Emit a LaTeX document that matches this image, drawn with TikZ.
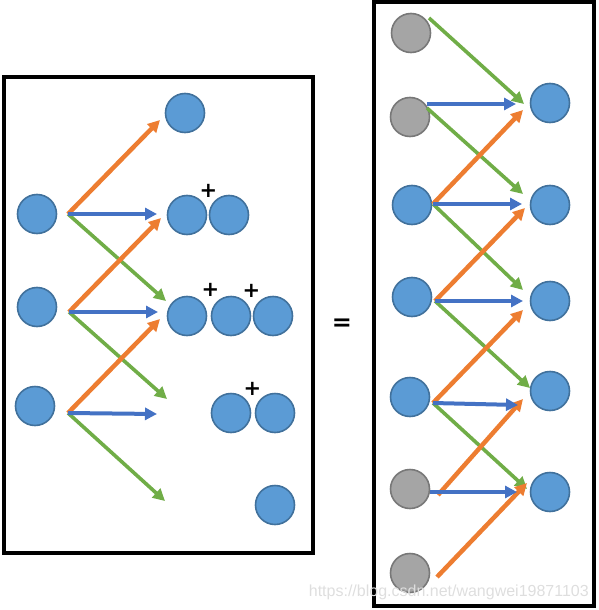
\documentclass[tikz,border=0pt]{standalone}
\usepackage{fontspec}
\setmainfont{Liberation Sans}
\newfontfamily\heavyfont{DejaVu Sans}
\usetikzlibrary{arrows.meta}
\definecolor{cfill}{HTML}{5B9BD5}
\definecolor{cedge}{HTML}{41719C}
\definecolor{gfill}{HTML}{A5A5A5}
\definecolor{gedge}{HTML}{787878}
\definecolor{aor}{HTML}{ED7D31}
\definecolor{abl}{HTML}{4472C4}
\definecolor{agr}{HTML}{70AD47}
\tikzset{
  bc/.style={circle,fill=cfill,draw=cedge,line width=1.6pt,minimum size=39pt,inner sep=0pt},
  gc/.style={circle,fill=gfill,draw=gedge,line width=1.6pt,minimum size=39pt,inner sep=0pt},
  arr/.style={line width=4pt,-{Triangle[length=12pt,width=12pt]}},
  ao/.style={arr,draw=aor,color=aor,line width=4.5pt},
  ab/.style={arr,draw=abl,color=abl},
  ag/.style={arr,draw=agr,color=agr,line width=3.6pt},
  plus/.style={font=\heavyfont\fontsize{21}{21}\selectfont\bfseries,inner sep=0pt},
  frame/.style={draw=black,line width=4pt}
}
\begin{document}
\begin{tikzpicture}[x=1pt,y=-1pt]
\useasboundingbox (0,0) rectangle (598,610);
% frames
\draw[frame] (4,77) rectangle (313,553);
\draw[frame] (374,2) rectangle (594,606);
% ---------- left panel ----------
\node[bc] (l1) at (37,214) {};
\node[bc] (l2) at (37,307) {};
\node[bc] (l3) at (35,406) {};
\node[bc] (t0) at (185,113) {};
\node[bc] (r2a) at (187,215) {};
\node[bc] (r2b) at (229,215) {};
\node[bc] (r3a) at (187,316) {};
\node[bc] (r3b) at (231,316) {};
\node[bc] (r3c) at (273,316) {};
\node[bc] (r4a) at (231,413) {};
\node[bc] (r4b) at (275,413) {};
\node[bc] (r5) at (275,505) {};
\node[plus] (p1) at (208.5,191) {+};
\node[plus] (p2) at (210.5,289.5) {+};
\node[plus] (p3) at (251.5,291) {+};
\node[plus] (p4) at (252.5,389) {+};
% origins and tips
\coordinate (o1) at (68,214);
\coordinate (o2) at (69,312);
\coordinate (o3) at (68,413);
\coordinate (o1o) at (160,120);
\coordinate (o1b) at (157,214);
\coordinate (o1g) at (166,301);
\coordinate (o2o) at (161,218);
\coordinate (o2b) at (158,312);
\coordinate (o2g) at (167,399);
\coordinate (o3o) at (160,319);
\coordinate (o3b) at (157,414);
\coordinate (o3g) at (165,501);
\draw[ag] (o1) -- (o1g);
\draw[ag] (o2) -- (o2g);
\draw[ag] (o3) -- (o3g);
\draw[ao] (o1) -- (o1o);
\draw[ao] (o2) -- (o2o);
\draw[ao] (o3) -- (o3o);
\draw[ab] (o1) -- (o1b);
\draw[ab] (o2) -- (o2b);
\draw[ab] (o3) -- (o3b);
% equals
\node[plus,font=\heavyfont\fontsize{24}{24}\selectfont\bfseries] (eq) at (342,325) {=};
% ---------- right panel ----------
\node[gc] (g1) at (411,33) {};
\node[gc] (g2) at (410,117) {};
\node[bc] (b1) at (412,205) {};
\node[bc] (b2) at (412,297) {};
\node[bc] (b3) at (410,397) {};
\node[gc] (g3) at (410,489) {};
\node[gc] (g4) at (410,573) {};
\node[bc] (c1) at (550,103) {};
\node[bc] (c2) at (550,205) {};
\node[bc] (c3) at (550,301) {};
\node[bc] (c4) at (550,391) {};
\node[bc] (c5) at (550,492) {};
% start points
\coordinate (sg1) at (429,18);
\coordinate (sg2b) at (427,104);
\coordinate (sg2g) at (427,108);
\coordinate (sb1) at (433,204);
\coordinate (sb2) at (435,301);
\coordinate (sb3) at (433,403);
\coordinate (sg3o) at (438,495);
\coordinate (sg3b) at (430,492);
\coordinate (sg4) at (437,577);
% tips
\coordinate (e1g) at (524,104);
\coordinate (e1b) at (516,104);
\coordinate (e1o) at (523,110);
\coordinate (e2g) at (523,194);
\coordinate (e2b) at (522,204);
\coordinate (e2o) at (525,208);
\coordinate (e3g) at (523,290);
\coordinate (e3b) at (523,301);
\coordinate (e3o) at (523,310);
\coordinate (e4g) at (530,388);
\coordinate (e4b) at (518,405);
\coordinate (e4o) at (523,399);
\coordinate (e5g) at (527,489);
\coordinate (e5b) at (517,492);
\coordinate (e5o) at (527,483);
\draw[ag] (sg1) -- (e1g);
\draw[ag] (sg2g) -- (e2g);
\draw[ag] (sb1) -- (e3g);
\draw[ag] (sb2) -- (e4g);
\draw[ag] (sb3) -- (e5g);
\draw[ao] (sb1) -- (e1o);
\draw[ao] (sb2) -- (e2o);
\draw[ao] (sb3) -- (e3o);
\draw[ao] (sg3o) -- (e4o);
\draw[ao] (sg4) -- (e5o);
\draw[ab] (sg2b) -- (e1b);
\draw[ab] (sb1) -- (e2b);
\draw[ab] (sb2) -- (e3b);
\draw[ab] (sb3) -- (e4b);
\draw[ab] (sg3b) -- (e5b);
% watermark
\node[text=black!13,font=\fontsize{16}{16}\selectfont,inner sep=0pt,anchor=east] (wm) at (589,592) {https://blog.csdn.net/wangwei19871103};
\end{tikzpicture}
\end{document}
